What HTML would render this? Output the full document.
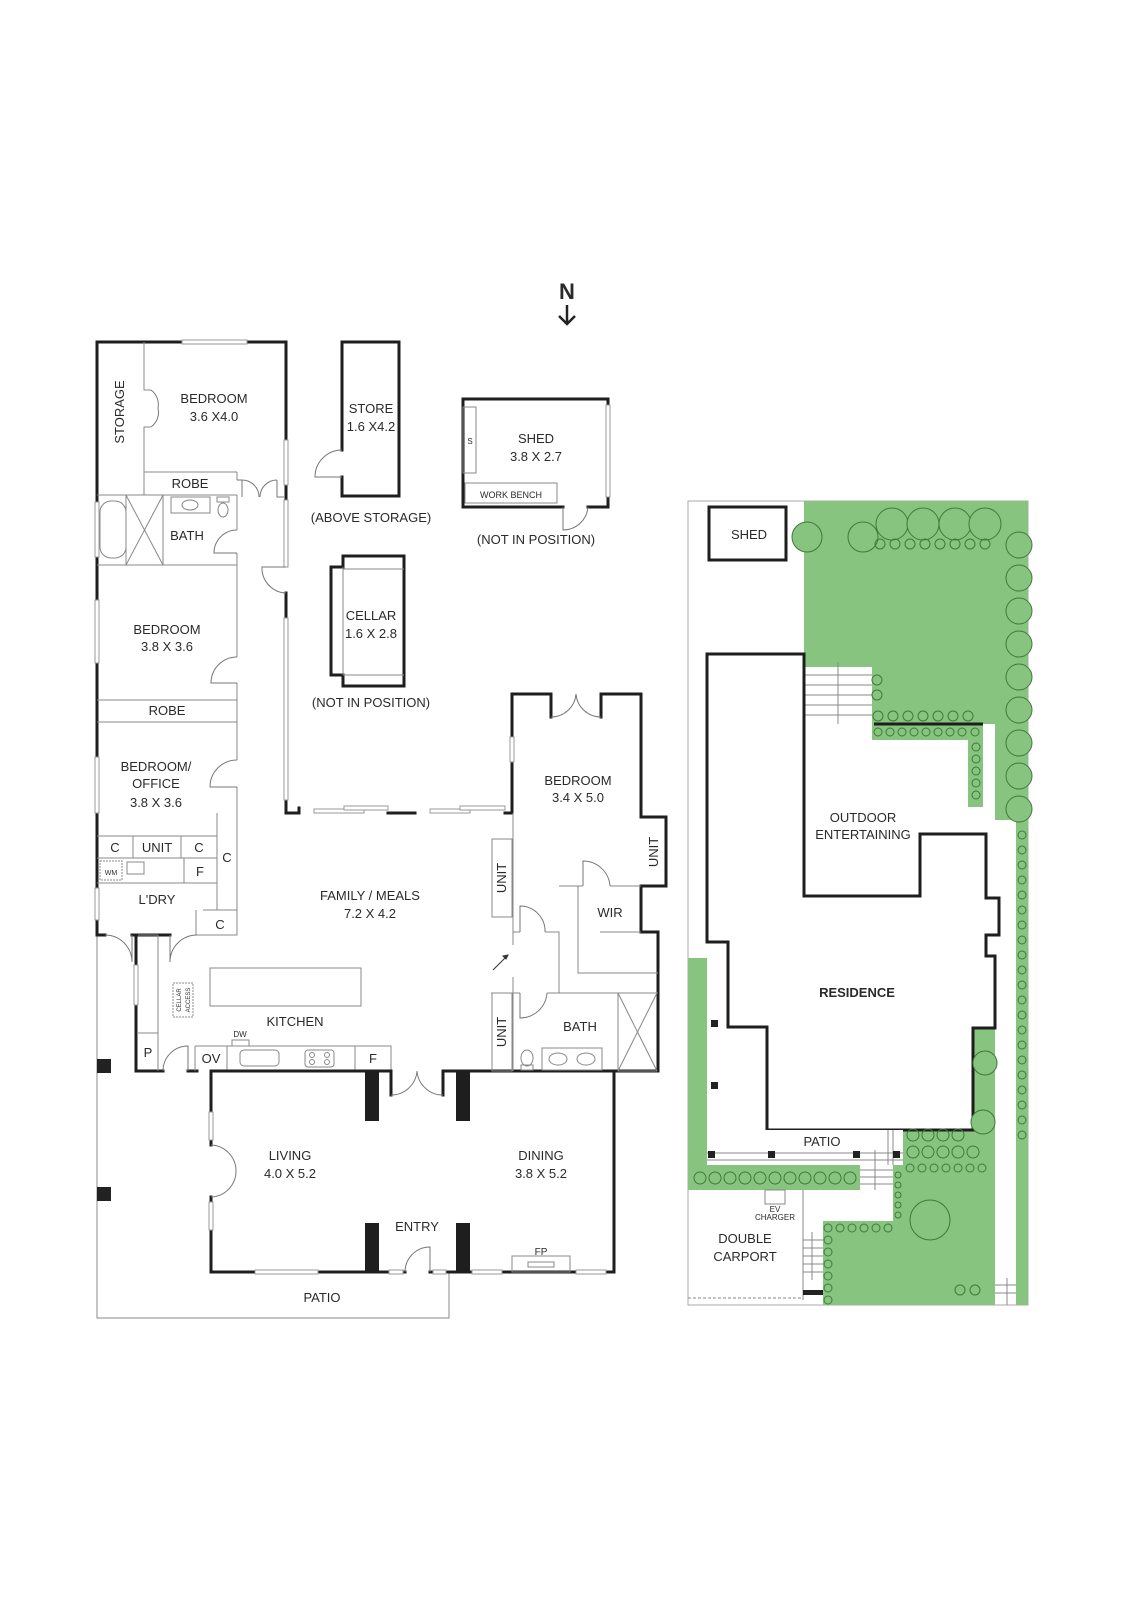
<!DOCTYPE html>
<html><head><meta charset="utf-8"><style>
html,body{margin:0;padding:0;background:#fff}
svg{display:block}
text{font-family:"Liberation Sans",sans-serif;fill:#2a2a2a;font-size:13px;text-anchor:middle}
.w{stroke:#1e1e1e;stroke-width:3;fill:none;stroke-linecap:square}
.t{stroke:#888;stroke-width:1;fill:none}
.win{fill:#fff;stroke:#999;stroke-width:1}
.d{stroke:#777;stroke-width:1;fill:none}
.tree{fill:#86c47f;stroke:#3f7a3a;stroke-width:1}
.sh{fill:none;stroke:#3f7a3a;stroke-width:1}
</style></head><body>
<svg width="1131" height="1600" viewBox="0 0 1131 1600" xmlns="http://www.w3.org/2000/svg">
<!-- North -->
<text x="567" y="299" style="font-size:22px;font-weight:bold">N</text>
<path d="M567 305 V324 M559 316 L567 324 L575 316" stroke="#222" stroke-width="2.5" fill="none"/>

<!-- ============ MAIN PLAN ============ -->
<!-- patio outline -->
<path d="M97 935 V1318 H449 V1272" class="t" stroke="#aaa"/>
<rect x="97" y="1059" width="14" height="14" fill="#222"/>
<rect x="97" y="1187" width="14" height="14" fill="#222"/>

<!-- bedroom wing -->
<path class="w" d="M182 342 H97 V935 H105 M247 342 H286 V440 M286 485 V500 M286 593 V618 M286 800 V813 H299"/>
<rect class="win" x="182" y="340" width="65" height="4"/>
<rect class="win" x="284" y="440" width="4" height="45"/>
<rect class="win" x="284" y="500" width="4" height="67"/>
<rect class="win" x="284" y="618" width="4" height="182"/>
<rect class="win" x="95" y="502" width="4" height="55"/>
<rect class="win" x="95" y="600" width="4" height="63"/>
<rect class="win" x="95" y="757" width="4" height="56"/>
<rect class="win" x="95" y="888" width="4" height="32"/>
<path class="d" d="M286 567 H262 A25 25 0 0 0 286 593"/>
<!-- interior -->
<path class="t" stroke="#555" stroke-width="1.5" d="M144 342 V390 H151 M151 427 H144 V495 M144 472 H237 M97 495 H237 M97 565 H237 M97 700 H237 M97 722 H237 M237 472 V480 M237 495 V530 M237 553 V657 M237 683 V760 M237 787 V836"/>
<path class="d" d="M151 390 A18 18 0 0 1 158 408 A18 18 0 0 1 151 427"/>
<path class="d" d="M237 480 H242 V497 M242 480 A17 17 0 0 1 259 497 M277 480 A17 17 0 0 0 260 497 M277 480 V497 H284"/>
<path class="d" d="M237 530 A23 23 0 0 0 214 553 H237 M237 657 A26 26 0 0 0 211 683 H237 M237 760 A27 27 0 0 0 210 787 H237"/>
<rect class="t" x="100" y="501" width="26" height="57" rx="11"/>
<path class="t" d="M126 495 V565 M163 495 V565 M126 495 L163 565 M163 495 L126 565"/>
<rect class="t" x="171" y="497" width="39" height="16"/><ellipse class="t" cx="190" cy="505" rx="8" ry="5"/>
<rect class="t" x="217" y="497" width="12" height="5"/><ellipse class="t" cx="223" cy="510" rx="5" ry="7"/>

<!-- laundry -->
<path class="t" stroke="#555" d="M97 836 H217 M97 858 H217 M97 883 H217 M133 836 V858 M181 836 V858 M184 858 V883 M217 813 V910 M237 836 V935 M203 910 H237 V935 H196 M196 935 V910"/>
<rect class="t" x="100" y="861" width="22" height="19" stroke-dasharray="2 1"/>
<rect class="t" x="127" y="862" width="17" height="12"/>
<path class="w" d="M97 935 H105 M132 935 H170 M136 935 V1071 H163 M188 1071 H197"/>
<path class="d" d="M105 935 A27 27 0 0 1 132 962 V935 M197 935 A27 27 0 0 0 170 962 V935"/>
<rect class="win" x="134" y="965" width="4" height="40"/>
<path class="t" d="M158 935 V1071 M138 935 H158 M138 1033 H158"/>
<rect class="t" x="173" y="983" width="20" height="34" stroke-dasharray="2 1"/>
<text transform="translate(181 1000) rotate(-90)" style="font-size:6px">CELLAR</text>
<text transform="translate(190 1000) rotate(-90)" style="font-size:6px">ACCESS</text>
<path class="d" d="M188 1071 V1046 A25 25 0 0 0 163 1071"/>

<!-- family north wall -->
<path class="w" d="M299 813 V808 M388 813 H415 M505 813 H512"/>
<rect class="win" x="314" y="809" width="50" height="4"/><rect class="win" x="344" y="806" width="44" height="4"/>
<rect class="win" x="430" y="809" width="40" height="4"/><rect class="win" x="460" y="806" width="45" height="4"/>

<!-- kitchen -->
<rect class="t" x="210" y="968" width="151" height="38" stroke="#aaa"/>
<path class="t" stroke="#555" d="M195 1046 H391 V1071 M227 1046 V1071 M355 1046 V1071 M195 1046 V1071"/>
<rect class="t" x="232" y="1040" width="17" height="6"/>
<rect class="t" x="240" y="1050" width="39" height="16" rx="4"/><rect class="t" x="305" y="1050" width="29" height="17" rx="3"/>
<circle class="t" cx="312" cy="1055" r="2.5"/><circle class="t" cx="327" cy="1055" r="2.5"/><circle class="t" cx="312" cy="1062" r="2.5"/><circle class="t" cx="327" cy="1062" r="2.5"/>

<!-- living/dining -->
<path class="w" d="M211 1071 H391 M211 1071 V1112 M211 1140 V1145 M211 1197 V1202 M211 1230 V1272 H255 M318 1272 H389 M403 1272 H405 M430 1272 H433 M446 1272 H614 V1071 H443 M391 1071 V1095 M443 1071 V1095"/>
<rect class="win" x="209" y="1112" width="4" height="28"/><rect class="win" x="209" y="1202" width="4" height="28"/>
<rect class="win" x="255" y="1270" width="63" height="4"/><rect class="win" x="389" y="1270" width="14" height="4"/><rect class="win" x="433" y="1270" width="13" height="4"/>
<rect class="win" x="472" y="1270" width="30" height="4"/><rect class="win" x="576" y="1270" width="30" height="4"/>
<path class="d" d="M211 1145 A26 26 0 0 1 236 1171 A26 26 0 0 1 211 1197"/>
<path class="d" d="M391 1095 A26 26 0 0 0 417 1071 A26 26 0 0 0 443 1095"/>
<path class="d" d="M405 1272 A25 25 0 0 1 430 1247 V1272"/>
<rect x="365" y="1071" width="14" height="50" fill="#1e1e1e"/><rect x="456" y="1071" width="14" height="50" fill="#1e1e1e"/>
<rect x="365" y="1223" width="14" height="49" fill="#1e1e1e"/><rect x="456" y="1223" width="14" height="49" fill="#1e1e1e"/>
<rect class="t" x="512" y="1256" width="58" height="16"/><rect class="t" x="528" y="1262" width="26" height="5"/>

<!-- east bedroom / bath -->
<path class="w" d="M512 813 V694 H551 V717 M601 717 V694 H641 V817 H666 V886 H641 V932 H658 V1071 H614"/>
<rect class="win" x="510" y="737" width="4" height="25"/>
<path class="d" d="M551 717 A25 25 0 0 0 576 694 A25 25 0 0 0 601 717"/>
<path class="t" stroke="#555" d="M513 813 V945 M513 977 V1071 M513 932 H520 M545 932 H559 V993 M559 886 H583 M610 886 H641 M578 886 V973 H658 M491 993 H520 M547 993 H658 M618 993 V1071 H657 M618 993 L657 1071 M657 993 L618 1071 M600 932 H641"/>
<path class="d" d="M520 932 V906 A25 25 0 0 1 545 932 M583 886 V861 A27 27 0 0 1 610 886 M520 993 V1018 A27 27 0 0 0 547 993"/>
<rect class="t" x="492" y="839" width="20" height="78"/><rect class="t" x="492" y="993" width="20" height="78"/>
<path d="M493 970 L508 955 M508 955 l-5 1 l3 3z" stroke="#333" fill="#333"/>
<rect class="t" x="542" y="1048" width="60" height="22"/><ellipse class="t" cx="558" cy="1059" rx="9" ry="6"/><ellipse class="t" cx="586" cy="1059" rx="9" ry="6"/>
<ellipse class="t" cx="527" cy="1058" rx="6" ry="8"/><rect class="t" x="521" y="1065" width="12" height="5"/>

<!-- store -->
<path class="w" d="M342 450 V342 H399 V496 H342 V477"/>
<path class="d" d="M342 450 A27 27 0 0 0 315 477 H342"/>
<!-- shed -->
<path class="w" d="M563 507 H463 V399 H608 V507 H588"/>
<rect class="win" x="606" y="405" width="4" height="92"/>
<rect class="t" x="463" y="407" width="13" height="66"/>
<rect class="t" x="465" y="483" width="92" height="20"/>
<path class="d" d="M563 507 V530 A25 25 0 0 0 588 507"/>
<!-- cellar -->
<path class="w" d="M343 556 H404 V686 H343 V675 H331 V567 H343 Z"/>
<path class="t" d="M343 567 V675 M343 569 H404 M343 675 H404"/>

<!-- main labels -->
<text transform="translate(124 412) rotate(-90)">STORAGE</text>
<text x="214" y="403">BEDROOM</text><text x="214" y="421">3.6 X4.0</text>
<text x="190" y="488">ROBE</text>
<text x="187" y="540">BATH</text>
<text x="167" y="634">BEDROOM</text><text x="167" y="651">3.8 X 3.6</text>
<text x="167" y="715">ROBE</text>
<text x="156" y="771">BEDROOM/</text><text x="156" y="788">OFFICE</text><text x="156" y="807">3.8 X 3.6</text>
<text x="115" y="852">C</text><text x="157" y="852">UNIT</text><text x="199" y="852">C</text>
<text x="227" y="862">C</text>
<text x="111" y="875" style="font-size:7px">WM</text>
<text x="200" y="876">F</text>
<text x="157" y="904">L'DRY</text>
<text x="220" y="929">C</text>
<text x="148" y="1057">P</text>
<text x="211" y="1063">OV</text>
<text x="373" y="1063">F</text>
<text x="240" y="1037" style="font-size:8px">DW</text>
<text x="295" y="1026">KITCHEN</text>
<text x="370" y="900">FAMILY / MEALS</text><text x="370" y="918">7.2 X 4.2</text>
<text transform="translate(506 878) rotate(-90)">UNIT</text>
<text transform="translate(506 1032) rotate(-90)">UNIT</text>
<text transform="translate(658 852) rotate(-90)">UNIT</text>
<text x="578" y="785">BEDROOM</text><text x="578" y="802">3.4 X 5.0</text>
<text x="610" y="917">WIR</text>
<text x="580" y="1031">BATH</text>
<text x="290" y="1160">LIVING</text><text x="290" y="1178">4.0 X 5.2</text>
<text x="541" y="1160">DINING</text><text x="541" y="1178">3.8 X 5.2</text>
<text x="417" y="1231">ENTRY</text>
<text x="541" y="1255" style="font-size:10px">FP</text>
<text x="322" y="1302">PATIO</text>
<text x="371" y="413">STORE</text><text x="371" y="431">1.6 X4.2</text>
<text x="371" y="522">(ABOVE STORAGE)</text>
<text x="536" y="443">SHED</text><text x="536" y="461">3.8 X 2.7</text>
<text x="470" y="444" style="font-size:8px">S</text>
<text x="511" y="498" style="font-size:9px">WORK BENCH</text>
<text x="536" y="544">(NOT IN POSITION)</text>
<text x="371" y="620">CELLAR</text><text x="371" y="638">1.6 X 2.8</text>
<text x="371" y="707">(NOT IN POSITION)</text>

<!-- ============ SITE PLAN ============ -->
<rect x="688" y="501" width="340" height="804" fill="#fff" stroke="#aaa" stroke-width="1"/>
<!-- greens -->
<g fill="#86c47f">
<path d="M804 501 H1028 V1305 H1016 V820 H995 V724 H983 V807 H968 V740 H872 V724 H804 Z"/>
<rect x="1016" y="820" width="12" height="485"/>
<path d="M903 1028 H995 V1305 H823 V1221 H893 V1165 H903 Z"/>
<rect x="688" y="958" width="19" height="232"/>
<rect x="688" y="1165" width="172" height="25"/>
<rect x="893" y="1130" width="10" height="40"/>
</g>
<rect x="805" y="667" width="67" height="57" fill="#fff"/>
<path class="t" d="M805 675 H872 M805 685 H872 M805 695 H872 M805 705 H872 M805 715 H872 M838 662 V724"/>
<rect x="709" y="507" width="77" height="53" fill="#fff" stroke="#1e1e1e" stroke-width="3"/>
<text x="749" y="539">SHED</text>
<!-- residence -->
<path d="M707 654 H804 V896 H920 V834 H986 V898 H999 V935 H986 V956 H995 V1028 H973 V1130 H767 V1027 H728 V942 H707 Z" fill="#fff" stroke="#1e1e1e" stroke-width="3"/>
<path d="M874 724 H983" stroke="#1e1e1e" stroke-width="3"/>
<!-- patio -->
<rect x="707" y="1130" width="196" height="35" fill="#fff"/>
<path class="t" d="M707 1153 H903 M707 1160 H903 M778 1160 H903 M893 1130 V1165 M888 1130 V1165"/>
<rect x="708" y="1151" width="7" height="7" fill="#222"/><rect x="768" y="1151" width="7" height="7" fill="#222"/><rect x="853" y="1151" width="7" height="7" fill="#222"/><rect x="893" y="1151" width="7" height="7" fill="#222"/>
<rect x="711" y="1020" width="7" height="7" fill="#222"/><rect x="711" y="1082" width="7" height="7" fill="#222"/>
<rect x="860" y="1165" width="33" height="25" fill="#fff"/>
<path class="t" d="M860 1170 H893 M860 1177 H893 M860 1184 H893 M875 1150 V1190"/>
<rect x="803" y="1233" width="20" height="50" fill="#fff"/>
<path class="t" d="M803 1240 H823 M803 1248 H823 M803 1256 H823 M803 1264 H823 M803 1272 H823 M812 1232 V1280 M803 1190 V1300"/>
<rect x="803" y="1290" width="20" height="5" fill="#222"/>
<path class="t" stroke-dasharray="3 2" d="M688 1298 H803"/>
<rect class="t" x="765" y="1190" width="20" height="14"/>
<path class="t" d="M995 1285 H1016 M995 1293 H1016 M1007 1278 V1305"/>
<!-- trees -->
<g class="tree">
<circle cx="807" cy="537" r="15"/><circle cx="863" cy="537" r="15"/>
<circle cx="892" cy="524" r="16"/><circle cx="923" cy="524" r="16"/><circle cx="955" cy="524" r="16"/><circle cx="985" cy="524" r="16"/>
<circle cx="1019" cy="545" r="13"/><circle cx="1019" cy="578" r="13"/><circle cx="1019" cy="611" r="13"/><circle cx="1019" cy="644" r="13"/><circle cx="1019" cy="677" r="13"/><circle cx="1019" cy="710" r="13"/><circle cx="1019" cy="743" r="13"/><circle cx="1019" cy="776" r="13"/><circle cx="1019" cy="809" r="13"/>
<circle cx="985" cy="1063" r="12"/><circle cx="983" cy="1122" r="12"/>
<circle cx="930" cy="1220" r="20"/>
</g>
<g class="sh">
<circle cx="880" cy="544" r="5"/><circle cx="895" cy="544" r="5"/><circle cx="910" cy="544" r="5"/><circle cx="925" cy="544" r="5"/><circle cx="940" cy="544" r="5"/><circle cx="955" cy="544" r="5"/><circle cx="970" cy="544" r="5"/><circle cx="985" cy="544" r="5"/>
<circle cx="878" cy="716" r="5"/><circle cx="893" cy="716" r="5"/><circle cx="908" cy="716" r="5"/><circle cx="923" cy="716" r="5"/><circle cx="938" cy="716" r="5"/><circle cx="953" cy="716" r="5"/><circle cx="968" cy="716" r="5"/>
<circle cx="878" cy="732" r="4"/><circle cx="890" cy="732" r="4"/><circle cx="902" cy="732" r="4"/><circle cx="914" cy="732" r="4"/><circle cx="926" cy="732" r="4"/><circle cx="938" cy="732" r="4"/><circle cx="950" cy="732" r="4"/><circle cx="962" cy="732" r="4"/><circle cx="975" cy="732" r="4"/>
<circle cx="976" cy="747" r="4"/><circle cx="976" cy="759" r="4"/><circle cx="976" cy="771" r="4"/><circle cx="976" cy="783" r="4"/><circle cx="976" cy="795" r="4"/>
<circle cx="877" cy="680" r="5"/><circle cx="877" cy="695" r="5"/>
<circle cx="1022" cy="835" r="4"/><circle cx="1022" cy="850" r="4"/><circle cx="1022" cy="865" r="4"/><circle cx="1022" cy="880" r="4"/><circle cx="1022" cy="895" r="4"/><circle cx="1022" cy="910" r="4"/><circle cx="1022" cy="925" r="4"/><circle cx="1022" cy="940" r="4"/><circle cx="1022" cy="955" r="4"/><circle cx="1022" cy="970" r="4"/><circle cx="1022" cy="985" r="4"/><circle cx="1022" cy="1000" r="4"/><circle cx="1022" cy="1015" r="4"/><circle cx="1022" cy="1030" r="4"/><circle cx="1022" cy="1045" r="4"/><circle cx="1022" cy="1060" r="4"/><circle cx="1022" cy="1075" r="4"/><circle cx="1022" cy="1090" r="4"/><circle cx="1022" cy="1105" r="4"/><circle cx="1022" cy="1120" r="4"/><circle cx="1022" cy="1135" r="4"/>
<circle cx="913" cy="1135" r="6"/><circle cx="928" cy="1135" r="6"/><circle cx="943" cy="1135" r="6"/><circle cx="958" cy="1135" r="6"/>
<circle cx="913" cy="1152" r="6"/><circle cx="928" cy="1152" r="6"/><circle cx="943" cy="1152" r="6"/><circle cx="958" cy="1152" r="6"/><circle cx="973" cy="1152" r="6"/>
<circle cx="910" cy="1168" r="4"/><circle cx="922" cy="1168" r="4"/><circle cx="934" cy="1168" r="4"/><circle cx="946" cy="1168" r="4"/><circle cx="958" cy="1168" r="4"/><circle cx="970" cy="1168" r="4"/><circle cx="982" cy="1168" r="4"/>
<circle cx="700" cy="1178" r="6"/><circle cx="715" cy="1178" r="6"/><circle cx="730" cy="1178" r="6"/><circle cx="745" cy="1178" r="6"/><circle cx="760" cy="1178" r="6"/><circle cx="775" cy="1178" r="6"/><circle cx="790" cy="1178" r="6"/><circle cx="805" cy="1178" r="6"/><circle cx="820" cy="1178" r="6"/><circle cx="835" cy="1178" r="6"/><circle cx="850" cy="1178" r="6"/>
<circle cx="828" cy="1228" r="4"/><circle cx="840" cy="1228" r="4"/><circle cx="852" cy="1228" r="4"/><circle cx="864" cy="1228" r="4"/><circle cx="876" cy="1228" r="4"/><circle cx="888" cy="1228" r="4"/>
<circle cx="828" cy="1240" r="4"/><circle cx="828" cy="1252" r="4"/><circle cx="828" cy="1264" r="4"/><circle cx="828" cy="1276" r="4"/><circle cx="828" cy="1288" r="4"/><circle cx="828" cy="1300" r="4"/>
<circle cx="898" cy="1175" r="3"/><circle cx="898" cy="1185" r="3"/><circle cx="898" cy="1195" r="3"/><circle cx="898" cy="1205" r="3"/><circle cx="898" cy="1215" r="3"/>
<circle cx="960" cy="1290" r="5"/><circle cx="975" cy="1290" r="5"/>
</g>
<text x="863" y="822">OUTDOOR</text><text x="863" y="839">ENTERTAINING</text>
<text x="857" y="997" style="font-weight:bold">RESIDENCE</text>
<text x="822" y="1146">PATIO</text>
<text x="775" y="1212" style="font-size:8px">EV</text><text x="775" y="1220" style="font-size:8px">CHARGER</text>
<text x="745" y="1243">DOUBLE</text><text x="745" y="1261">CARPORT</text>
</svg>
</body></html>
